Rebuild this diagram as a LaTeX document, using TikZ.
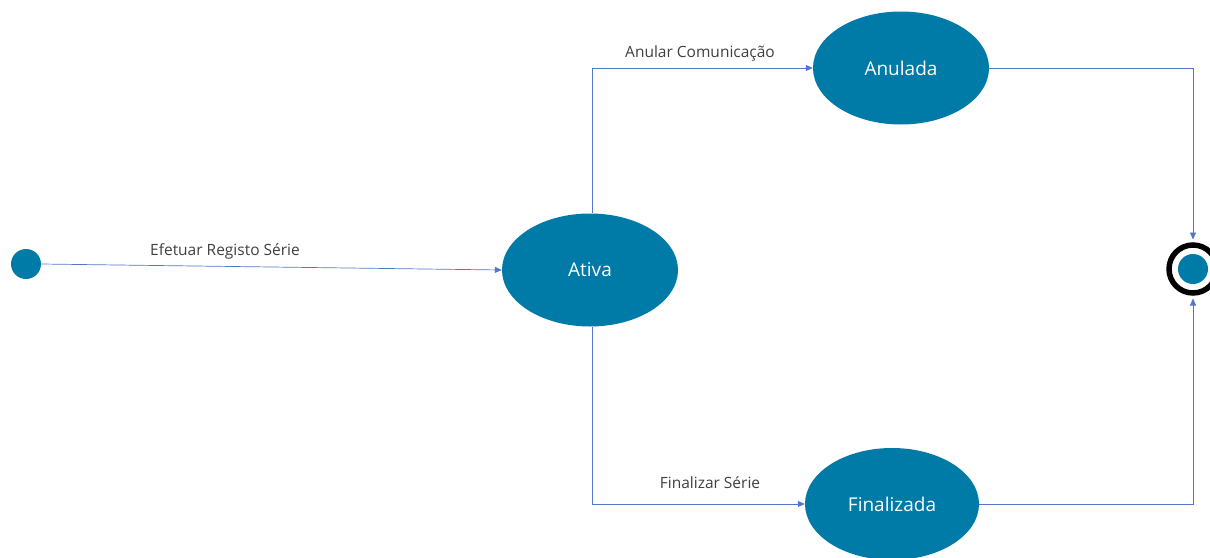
\documentclass[tikz,border=0pt]{standalone}
\usepackage{fontspec}
\setmainfont{Open Sans}
\usetikzlibrary{arrows.meta,shapes.geometric}
\definecolor{stfill}{RGB}{0,122,166}
\definecolor{lnblue}{RGB}{80,120,200}
\definecolor{txgray}{RGB}{64,64,64}
\tikzset{
  x=1pt,y=-1pt,
  state/.style={ellipse,fill=stfill,draw=none,minimum width=176pt,minimum height=113pt,text=white,font=\fontsize{19}{22}\selectfont,inner sep=0pt},
  conn/.style={draw=lnblue,line width=0.7pt,-{Triangle[length=7pt,width=6pt]}},
  lbl/.style={text=txgray,font=\fontsize{15.5}{18}\selectfont,inner sep=0pt},
}
\begin{document}
\begin{tikzpicture}
\useasboundingbox (0,0) rectangle (1210,557);
\node[circle,fill=stfill,minimum size=30pt,inner sep=0pt] (start) at (26,264) {};
\node[state] (ativa) at (590,270) {Ativa};
\node[state] (anulada) at (901,68) {Anulada};
\node[state,minimum width=174pt,minimum height=112pt] (finalizada) at (892,504) {Finalizada};
\node[circle,draw=black,line width=5.5pt,minimum size=48pt,inner sep=0pt] (end) at (1193,269) {};
\node[circle,fill=stfill,minimum size=30pt,inner sep=0pt] (endin) at (1193,269) {};
\coordinate (c1) at (592,68);
\coordinate (c2) at (592,504);
\coordinate (c3) at (1193,68);
\coordinate (c4) at (1193,504);
\draw[conn] (start.east) -- (ativa.west);
\draw[conn] (ativa.north -| c1) -- (c1) -- (anulada.west);
\draw[conn] (ativa.south -| c2) -- (c2) -- (finalizada.west);
\draw[conn] (anulada.east) -- (c3) -- ([yshift=2.75pt]end.north);
\draw[conn] (finalizada.east) -- (c4) -- ([yshift=-2.75pt]end.south);
\node[lbl] (l1) at (225,251) {Efetuar Registo Série};
\node[lbl] (l2) at (700,53) {Anular Comunicação};
\node[lbl] (l3) at (710,483) {Finalizar Série};
\end{tikzpicture}
\end{document}
